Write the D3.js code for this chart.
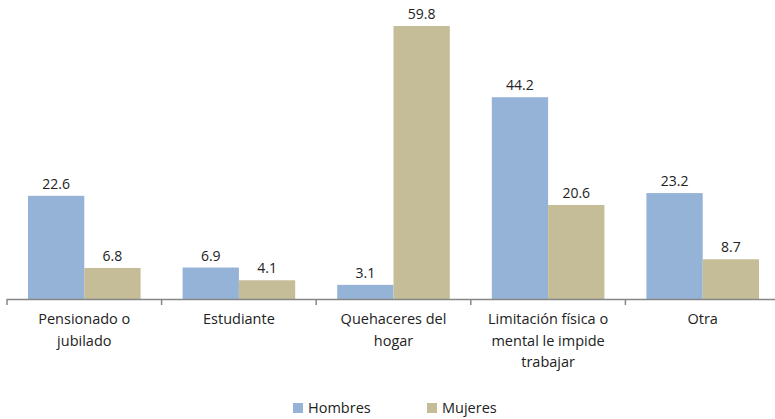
<!DOCTYPE html>
<html>
<head>
<meta charset="utf-8">
<script src="https://cdn.jsdelivr.net/npm/d3@7"></script>
<style>
  body { margin: 0; background: #fff; }
  svg text { font-family: "Open Sans", "Noto Sans", sans-serif; fill: #222; }
</style>
</head>
<body>
<div class="chart"></div>
<script>
const FRAME_WIDTH = 775;
const FRAME_HEIGHT = 419;
const MARGINS = {left: 7, right: -5, top: 26, bottom: 120};

const CATEGORIES = [
  ["Pensionado o", "jubilado"],
  ["Estudiante"],
  ["Quehaceres del", "hogar"],
  ["Limitación física o", "mental le impide", "trabajar"],
  ["Otra"]
];
const SERIES = ["Hombres", "Mujeres"];
const HOMBRES = [22.6, 6.9, 3.1, 44.2, 23.2];
const MUJERES = [6.8, 4.1, 59.8, 20.6, 8.7];
const COLORS = ["#95b3d7", "#c4bd97"];

const CHART_WIDTH = FRAME_WIDTH - MARGINS.left - MARGINS.right;
const CHART_HEIGHT = FRAME_HEIGHT - MARGINS.top - MARGINS.bottom;

const FRAME = d3.select(".chart")
  .append("svg")
  .attr("width", FRAME_WIDTH)
  .attr("height", FRAME_HEIGHT);

const g = FRAME.append("g")
  .attr("transform", "translate(" + MARGINS.left + "," + MARGINS.top + ")");

const X_SCALE = d3.scaleBand()
  .domain(d3.range(CATEGORIES.length))
  .range([0, CHART_WIDTH])
  .paddingInner(0)
  .paddingOuter(0);

const INNER = d3.scaleBand()
  .domain(SERIES)
  .range([21, X_SCALE.bandwidth() - 21]);

const Y_SCALE = d3.scaleLinear()
  .domain([0, 59.8])
  .range([CHART_HEIGHT, 0]);

const data = CATEGORIES.map((c, i) => ({
  i: i,
  vals: [{s: "Hombres", v: HOMBRES[i]}, {s: "Mujeres", v: MUJERES[i]}]
}));

const groups = g.selectAll(".grp")
  .data(data)
  .enter()
  .append("g")
  .attr("transform", (d) => "translate(" + X_SCALE(d.i) + ",0)");

groups.selectAll("rect")
  .data((d) => d.vals)
  .enter()
  .append("rect")
  .attr("x", (d) => INNER(d.s))
  .attr("y", (d) => Y_SCALE(d.v))
  .attr("width", INNER.bandwidth())
  .attr("height", (d) => CHART_HEIGHT - Y_SCALE(d.v))
  .attr("fill", (d, j) => COLORS[j]);

groups.selectAll(".val")
  .data((d) => d.vals)
  .enter()
  .append("text")
  .attr("x", (d) => INNER(d.s) + INNER.bandwidth() / 2)
  .attr("y", (d) => Y_SCALE(d.v) - 7)
  .attr("text-anchor", "middle")
  .attr("font-size", "14px")
  .text((d) => d.v.toFixed(1));

// axis
const axis = g.append("g").attr("transform", "translate(0," + CHART_HEIGHT + ")");
axis.append("line")
  .attr("x1", 0).attr("x2", CHART_WIDTH)
  .attr("y1", 0.5).attr("y2", 0.5)
  .attr("stroke", "#868686").attr("stroke-width", 1.5);
axis.selectAll(".tick")
  .data(d3.range(CATEGORIES.length))
  .enter()
  .append("line")
  .attr("x1", (d) => X_SCALE(d)).attr("x2", (d) => X_SCALE(d))
  .attr("y1", 0).attr("y2", 6)
  .attr("stroke", "#868686").attr("stroke-width", 1.5);

const labels = axis.selectAll(".lab")
  .data(CATEGORIES)
  .enter()
  .append("text")
  .attr("text-anchor", "middle")
  .attr("font-size", "14.5px")
  .attr("transform", (d, i) => "translate(" + (X_SCALE(i) + X_SCALE.bandwidth() / 2) + ",25)");
labels.selectAll("tspan")
  .data((d) => d)
  .enter()
  .append("tspan")
  .attr("x", 0)
  .attr("y", (d, j) => j * 21.5)
  .text((d) => d);

// legend
const legend = FRAME.append("g").attr("transform", "translate(293,403)");
SERIES.forEach((s, j) => {
  const lg = legend.append("g").attr("transform", "translate(" + (j * 134) + ",0)");
  lg.append("rect").attr("width", 10).attr("height", 10).attr("fill", COLORS[j]);
  lg.append("text").attr("x", 15).attr("y", 10).attr("font-size", "14.5px").text(s);
});
</script>
</body>
</html>
